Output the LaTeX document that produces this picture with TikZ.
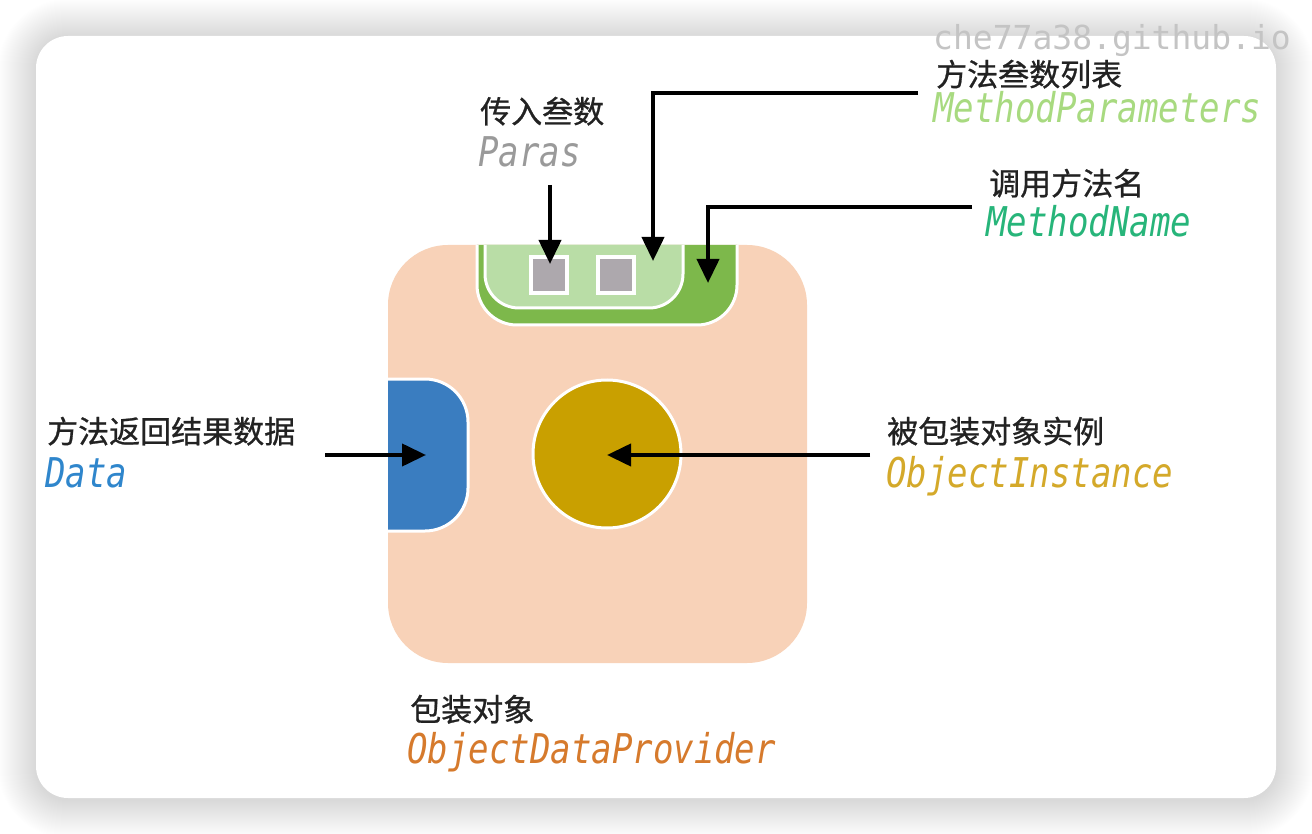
\documentclass[tikz,border=0pt]{standalone}
\usepackage{fontspec}
\newfontfamily\cjk[FakeBold=0.8]{Noto Sans CJK SC}
\newfontfamily\monoit[FakeStretch=0.83]{DejaVu Sans Mono}
\newfontfamily\wmfont{DejaVu Sans Mono}
\usetikzlibrary{arrows.meta}
\definecolor{peach}{HTML}{F8D2B8}
\definecolor{dkgreen}{HTML}{7DB84B}
\definecolor{ltgreen}{HTML}{B9DDA6}
\definecolor{sqgray}{HTML}{ADA8AD}
\definecolor{dblue}{HTML}{3A7DC0}
\definecolor{gold}{HTML}{C9A000}
\definecolor{cParas}{HTML}{9A9A9A}
\definecolor{cMP}{HTML}{A8DA80}
\definecolor{cMN}{HTML}{27B57A}
\definecolor{cData}{HTML}{2F86CC}
\definecolor{cOI}{HTML}{D4A92A}
\definecolor{cODP}{HTML}{D67A2C}
\definecolor{wm}{HTML}{C4C4C4}
\definecolor{txt}{HTML}{222222}
\tikzset{
  cjklbl/.style={anchor=base west, inner sep=0pt, text=txt, font=\cjk\fontsize{31}{36}\selectfont},
  monolbl/.style={anchor=base west, inner sep=0pt, font=\monoit\itshape\fontsize{41}{46}\selectfont},
  arr/.style={draw=black, line width=4pt, -{Triangle[length=24pt,width=22pt]}},
  wborder/.style={draw=white, line width=3pt}
}
\begin{document}
\begin{tikzpicture}[x=1pt,y=-1pt]
\useasboundingbox (0,0) rectangle (1312,834);
\fill[white] (0,0) rectangle (1312,834);
% shadow
\foreach \i [evaluate=\i as \r using 32+\i] in {1,...,38}
  \fill[black, opacity=0.004, rounded corners=\r pt] (36-\i,37-\i) rectangle (1276+\i,800+\i);
% card
\fill[white, rounded corners=32pt] (36,36) rectangle (1276,798);
% provider
\node[fill=peach, draw=none, minimum width=419pt, minimum height=418pt, rounded corners=60pt, inner sep=0pt] (provider) at (597.5,454) {};
% method name tab
\filldraw[fill=dkgreen, wborder, rounded corners=40pt] (477,245) -- (477,325) -- (737,325) -- (737,245);
\filldraw[fill=ltgreen, wborder, rounded corners=34pt] (485,245) -- (485,308) -- (683,308) -- (683,245);
\filldraw[fill=sqgray, draw=white, line width=4pt] (531,257) rectangle (567,293);
\filldraw[fill=sqgray, draw=white, line width=4pt] (598,257) rectangle (634,293);
% data
\filldraw[fill=dblue, wborder, rounded corners=43pt] (388,379) -- (468,379) -- (468,531) -- (388,531);
% object instance
\filldraw[fill=gold, wborder] (607,454) circle (74);
% labels
\node[cjklbl] (parasCN) at (480,123) {传入叁数};
\node[monolbl, text=cParas] (paras) at (478,167) {Paras};
\node[cjklbl] (mpCN) at (936,86) {方法叁数列表};
\node[monolbl, text=cMP] (mp) at (933,123) {MethodParameters};
\node[cjklbl] (mnCN) at (989,195) {调用方法名};
\node[monolbl, text=cMN] (mn) at (986,237) {MethodName};
\node[cjklbl] (dataCN) at (47,443) {方法返回结果数据};
\node[monolbl, text=cData] (data) at (45,487) {Data};
\node[cjklbl] (oiCN) at (887,443) {被包装对象实例};
\node[monolbl, text=cOI] (oi) at (886,487) {ObjectInstance};
\node[cjklbl] (odpCN) at (410,721) {包装对象};
\node[monolbl, text=cODP] (odp) at (407,763) {ObjectDataProvider};
% arrows
\coordinate (parasS) at (550,185); \coordinate (parasT) at (550,264);
\draw[arr] (parasS) -- (parasT);
\coordinate (mpS) at (918,93); \coordinate (mpT) at (653,261);
\draw[arr] (mpS) -| (mpT);
\coordinate (mnS) at (972,207); \coordinate (mnT) at (708,283);
\draw[arr] (mnS) -| (mnT);
\coordinate (dataS) at (325,455); \coordinate (dataT) at (426,455);
\draw[arr] (dataS) -- (dataT);
\coordinate (oiS) at (870,455); \coordinate (oiT) at (607,455);
\draw[arr] (oiS) -- (oiT);
% watermark
\node[anchor=base west, inner sep=0pt, text=wm, font=\wmfont\fontsize{33}{38}\selectfont] (wmark) at (933,50) {che77a38.github.io};
\end{tikzpicture}
\end{document}
